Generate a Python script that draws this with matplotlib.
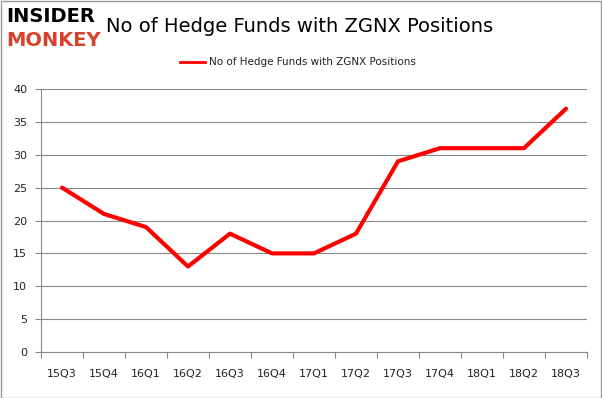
import matplotlib
matplotlib.use("Agg")
import matplotlib.pyplot as plt
from matplotlib.patches import Rectangle

quarters = ["15Q3", "15Q4", "16Q1", "16Q2", "16Q3", "16Q4", "17Q1",
            "17Q2", "17Q3", "17Q4", "18Q1", "18Q2", "18Q3"]
funds = [25, 21, 19, 13, 18, 15, 15, 18, 29, 31, 31, 31, 37]
yticks = [0, 5, 10, 15, 20, 25, 30, 35, 40]

W, H = 602, 398
fig = plt.figure(figsize=(W / 100, H / 100), dpi=100)
fig.patch.set_facecolor("white")

# plot area in pixels: left 41, right 587, top 89, bottom 352
ax = fig.add_axes([41 / W, 1 - 352 / H, (587 - 41) / W, (352 - 89) / H])
x = list(range(len(quarters)))
ax.plot(x, funds, color="#ff0000", lw=3, solid_joinstyle="round",
        solid_capstyle="round", zorder=3)

ax.set_xlim(-0.5, len(quarters) - 0.5)
ax.set_ylim(0, 40)
ax.set_yticks(yticks)
ax.set_xticks([i - 0.5 for i in range(len(quarters) + 1)])
ax.set_xticklabels([])
ax.set_xticks(x, minor=True)
ax.set_xticklabels(quarters, minor=True)
ax.tick_params(axis="x", which="minor", length=0, pad=12, labelsize=8, colors="#222222")
ax.tick_params(axis="x", which="major", length=4, color="#888888")
ax.tick_params(axis="y", length=4, color="#888888", labelsize=8, labelcolor="#222222", pad=6)
ax.grid(axis="y", color="#888888", lw=0.8)
ax.set_axisbelow(True)
for s in ["top", "right"]:
    ax.spines[s].set_visible(False)
for s in ["left", "bottom"]:
    ax.spines[s].set_color("#888888")

# title and legend
fig.text(300 / W, 1 - 26 / H, "No of Hedge Funds with ZGNX Positions",
         ha="center", va="center", fontsize=14)
fig.add_artist(plt.Line2D([180 / W, 205 / W], [1 - 62 / H, 1 - 62 / H],
                          color="#ff0000", lw=2))
fig.text(209 / W, 1 - 62 / H, "No of Hedge Funds with ZGNX Positions",
         ha="left", va="center", fontsize=7.5, color="#222222")

# logo
fig.text(6 / W, 1 - 17 / H, "INSIDER", ha="left", va="center",
         fontsize=14, fontweight="bold", color="black")
fig.text(6 / W, 1 - 40 / H, "MONKEY", ha="left", va="center",
         fontsize=14, fontweight="bold", color="#d9412b")

# outer border
fig.add_artist(Rectangle((0.5 / W, 0.5 / H), 1 - 1.5 / W, 1 - 1.5 / H,
                         transform=fig.transFigure, fill=False,
                         edgecolor="#999999", lw=1))

fig.savefig("out.png", dpi=100)
